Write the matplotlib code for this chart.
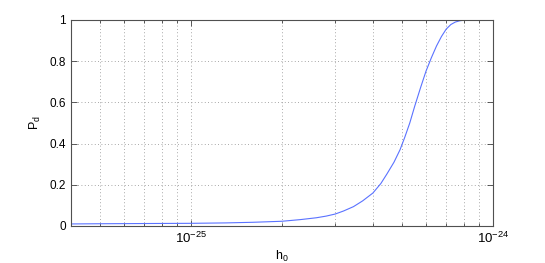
import numpy as np
import matplotlib
matplotlib.use('Agg')
import matplotlib.pyplot as plt
from matplotlib.ticker import LogLocator, FixedLocator, NullFormatter

plt.rcParams['font.family'] = ['Liberation Sans', 'DejaVu Sans']
plt.rcParams['mathtext.fontset'] = 'custom'
plt.rcParams['mathtext.rm'] = 'Liberation Sans'
plt.rcParams['mathtext.it'] = 'Liberation Sans'

# values (h0 in units of 1e-25)
h0 = [0.4, 0.5, 0.7, 1.0, 1.3, 1.6, 2.0, 2.3, 2.6, 2.8, 3.0, 3.2, 3.45, 3.7,
      4.0, 4.25, 4.45, 4.7, 4.92, 5.1, 5.3, 5.5, 5.75, 6.0, 6.25, 6.5, 6.75,
      7.0, 7.25, 7.5, 7.75, 8.0, 8.5, 10.0]
pd_ = [0.010, 0.011, 0.012, 0.013, 0.015, 0.018, 0.023, 0.031, 0.040, 0.048,
       0.058, 0.073, 0.094, 0.122, 0.160, 0.206, 0.252, 0.31, 0.37, 0.43,
       0.50, 0.58, 0.67, 0.752, 0.817, 0.874, 0.92, 0.956, 0.978, 0.99,
       0.996, 0.999, 1.0, 1.0]
yticks = [0, 0.2, 0.4, 0.6, 0.8, 1]
ylabels = ['0', '0.2', '0.4', '0.6', '0.8', '1']

x = np.array(h0) * 1e-25
y = np.array(pd_)

fig = plt.figure(figsize=(5.45, 2.63), dpi=100)
ax = fig.add_axes([71/545, 37/263, 422/545, 206/263])
ax.plot(x, y, color='#5a72ff', lw=0.8)
ax.set_xscale('log')
ax.set_xlim(4e-26, 1e-24)
ax.set_ylim(0, 1)
ax.set_yticks(yticks)
ax.set_yticklabels(ylabels)
ax.xaxis.set_major_locator(FixedLocator([1e-25, 1e-24]))
ax.set_xticklabels([r'$10^{-25}$', r'$10^{-24}$'], fontsize=9.5)
ax.xaxis.set_minor_locator(LogLocator(base=10, subs=np.arange(2, 10)))
ax.xaxis.set_minor_formatter(NullFormatter())

gstyle = dict(ls=(0, (1, 3)), color='#8c8c8c', lw=0.6)
ax.grid(True, which='major', **gstyle)
ax.grid(True, which='minor', axis='x', **gstyle)
ax.tick_params(which='both', direction='in', top=True, right=True,
               color='#404040', width=0.6)
ax.tick_params(axis='y', labelsize=8.5)
ax.tick_params(which='major', length=4)
ax.tick_params(which='minor', length=2)
for s in ax.spines.values():
    s.set_color('#505050')
    s.set_linewidth(0.8)

ax.set_xlabel(r'h$_0$', fontsize=9, labelpad=2)
ax.set_ylabel(r'P$_d$', fontsize=9, labelpad=5)

fig.savefig('out.png', dpi=100)
